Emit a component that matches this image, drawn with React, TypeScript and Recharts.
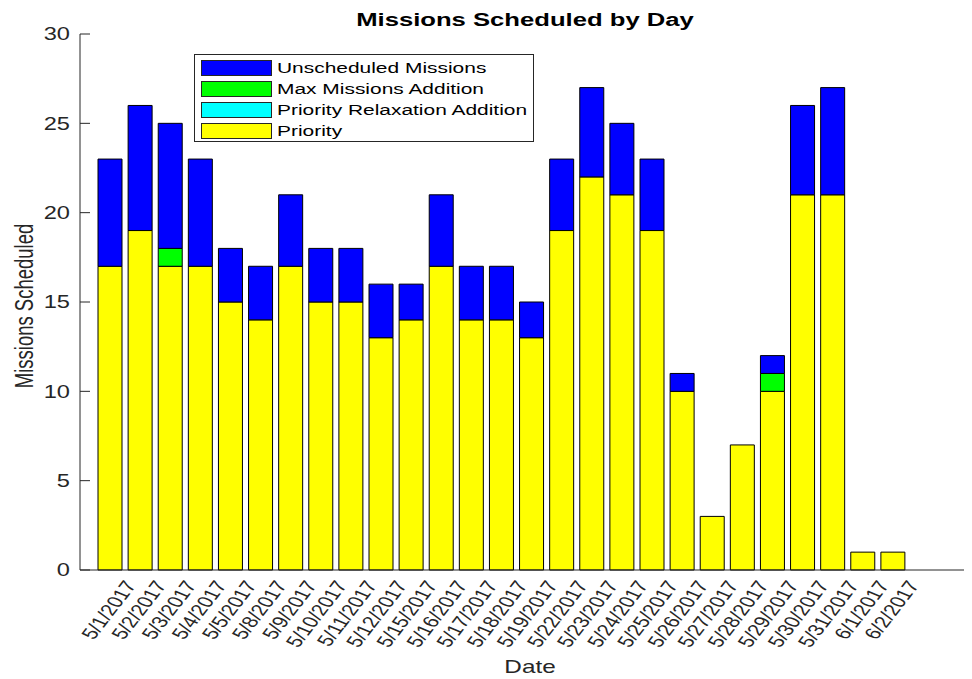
import { BarChart, Bar, XAxis, YAxis } from "recharts";

const dates = [
  "5/1/2017", "5/2/2017", "5/3/2017", "5/4/2017", "5/5/2017", "5/8/2017", "5/9/2017",
  "5/10/2017", "5/11/2017", "5/12/2017", "5/15/2017", "5/16/2017", "5/17/2017", "5/18/2017",
  "5/19/2017", "5/22/2017", "5/23/2017", "5/24/2017", "5/25/2017", "5/26/2017", "5/27/2017",
  "5/28/2017", "5/29/2017", "5/30/2017", "5/31/2017", "6/1/2017", "6/2/2017",
];
const priority = [17, 19, 17, 17, 15, 14, 17, 15, 15, 13, 14, 17, 14, 14, 13, 19, 22, 21, 19, 10, 3, 7, 10, 21, 21, 1, 1];
const relaxation = [0, 0, 0, 0, 0, 0, 0, 0, 0, 0, 0, 0, 0, 0, 0, 0, 0, 0, 0, 0, 0, 0, 0, 0, 0, 0, 0];
const maxMissions = [0, 0, 1, 0, 0, 0, 0, 0, 0, 0, 0, 0, 0, 0, 0, 0, 0, 0, 0, 0, 0, 0, 1, 0, 0, 0, 0];
const unscheduled = [6, 7, 7, 6, 3, 3, 4, 3, 3, 3, 2, 4, 3, 3, 2, 4, 5, 4, 4, 1, 0, 0, 1, 5, 6, 0, 0];
const yTicks = [0, 5, 10, 15, 20, 25, 30];

// legend order, top to bottom
const series = [
  { key: "unscheduled", name: "Unscheduled Missions", color: "#0000ff" },
  { key: "maxMissions", name: "Max Missions Addition", color: "#00ff00" },
  { key: "relaxation", name: "Priority Relaxation Addition", color: "#00ffff" },
  { key: "priority", name: "Priority", color: "#ffff00" },
];

const data = dates.map((d, i) => ({
  date: d,
  priority: priority[i],
  relaxation: relaxation[i],
  maxMissions: maxMissions[i],
  unscheduled: unscheduled[i],
}));

const FONT = '"Liberation Sans", Arial, Helvetica, sans-serif';
const SX = 1.35; // picture is stretched sideways
const INK = "#262626";

function YTick(props: any) {
  const { x, y, payload } = props;
  return (
    <g>
      <line x1={x} x2={x + 10} y1={y} y2={y} stroke={INK} strokeWidth={1} />
      <text
        transform={`translate(${x - 10},${y}) scale(${SX},1)`}
        textAnchor="end"
        dominantBaseline="central"
        fontFamily={FONT}
        fontSize={17.5}
        fill={INK}
      >
        {payload.value}
      </text>
    </g>
  );
}

function XTick(props: any) {
  const { x, y, payload } = props;
  return (
    <text
      transform={`translate(${x + 27},${y + 15}) scale(${SX},1) rotate(-60)`}
      textAnchor="end"
      fontFamily={FONT}
      fontSize={16.5}
      fill={INK}
    >
      {payload.value}
    </text>
  );
}

export default function App() {
  return (
    <div style={{ position: "absolute", left: 0, top: 0, width: 972, height: 679, background: "#fff" }}>
      <BarChart
        width={972}
        height={679}
        data={data}
        margin={{ top: 34, right: 8, left: 0, bottom: 0 }}
        barSize={24}
      >
        <XAxis
          dataKey="date"
          height={109}
          interval={0}
          padding={{ left: 15, right: 56 }}
          tickSize={0}
          tickMargin={0}
          tickLine={false}
          axisLine={{ stroke: INK }}
          tick={<XTick />}
        />
        <YAxis
          width={80}
          domain={[0, 30]}
          ticks={yTicks}
          tickSize={0}
          tickMargin={0}
          tickLine={false}
          axisLine={{ stroke: INK }}
          tick={<YTick />}
        />
        <Bar dataKey="priority" stackId="a" fill="#ffff00" stroke="#000" strokeWidth={1} isAnimationActive={false} />
        <Bar dataKey="relaxation" stackId="a" fill="#00ffff" stroke="#000" strokeWidth={1} isAnimationActive={false} />
        <Bar dataKey="maxMissions" stackId="a" fill="#00ff00" stroke="#000" strokeWidth={1} isAnimationActive={false} />
        <Bar dataKey="unscheduled" stackId="a" fill="#0000ff" stroke="#000" strokeWidth={1} isAnimationActive={false} />
      </BarChart>

      <svg
        width={972}
        height={679}
        style={{ position: "absolute", left: 0, top: 0, pointerEvents: "none" }}
      >
        <text
          transform={`translate(525,26) scale(${SX},1)`}
          textAnchor="middle"
          fontFamily={FONT}
          fontSize={19}
          fontWeight="bold"
          fill="#000"
        >
          Missions Scheduled by Day
        </text>
        <text
          transform={`translate(530,673) scale(${SX},1)`}
          textAnchor="middle"
          fontFamily={FONT}
          fontSize={18}
          fill={INK}
        >
          Date
        </text>
        <text
          transform={`translate(33,306) scale(${SX},1) rotate(-90)`}
          textAnchor="middle"
          fontFamily={FONT}
          fontSize={18.5}
          fill={INK}
        >
          Missions Scheduled
        </text>
      </svg>

      <div
        style={{
          position: "absolute",
          left: 194,
          top: 54,
          width: 338,
          height: 86,
          border: `1px solid ${INK}`,
          background: "#fff",
        }}
      >
        {series.map((s, i) => (
          <div key={s.key} style={{ position: "absolute", left: 6, top: 5 + i * 21, height: 16, display: "flex", alignItems: "center" }}>
            <div style={{ width: 69, height: 14, background: s.color, border: `1px solid ${INK}` }} />
            <div
              style={{
                marginLeft: 5,
                fontFamily: FONT,
                fontSize: 15.5,
                color: "#000",
                whiteSpace: "nowrap",
                transform: `scaleX(${SX})`,
                transformOrigin: "left center",
              }}
            >
              {s.name}
            </div>
          </div>
        ))}
      </div>
    </div>
  );
}
